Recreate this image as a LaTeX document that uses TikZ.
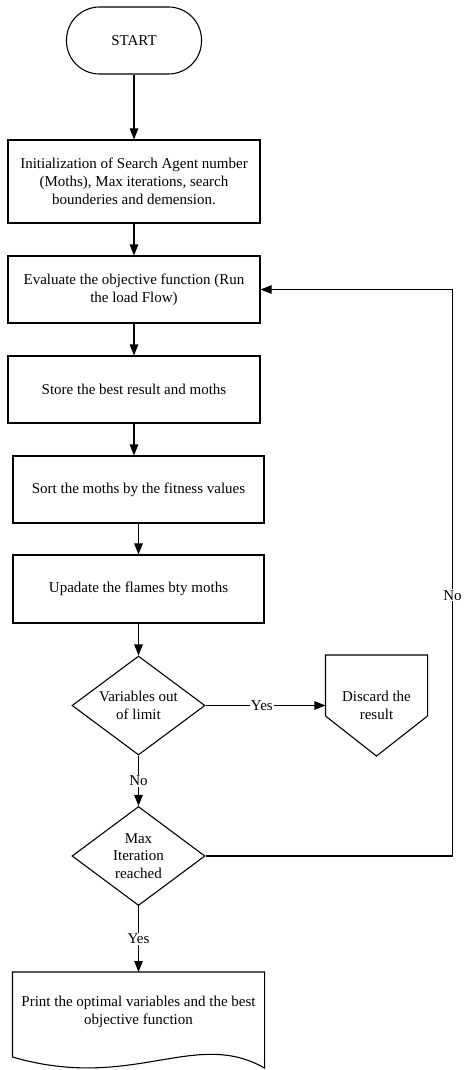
\documentclass[tikz,border=0pt]{standalone}
\usepackage{fontspec}
\setmainfont{Liberation Serif}
\usetikzlibrary{shapes.geometric,arrows.meta}

\begin{document}
\begin{tikzpicture}[x=1pt, y=-1pt, line width=1.1pt,
  font=\fontsize{15pt}{17.7pt}\selectfont,
  box/.style={draw, minimum width=252pt, minimum height=67pt, align=center, inner sep=2pt},
  decision/.style={draw, diamond, minimum width=133pt, minimum height=99pt, aspect=1.34, inner sep=0pt, align=center},
  flow/.style={-{Triangle[length=11pt,width=8.5pt]}},
  lbl/.style={fill=white, inner sep=1pt}]
  \useasboundingbox (0,0) rectangle (466,1070);
  % Boxes
  \node[draw, rounded corners=33pt, minimum width=135pt, minimum height=67pt] (start) at (134,40.5) {START};
  \node[box, minimum height=83pt] (init) at (134,181.5) {Initialization of Search Agent number\\(Moths), Max iterations, search\\bounderies and demension.};
  \node[box] (eval) at (134,289.5) {Evaluate the objective function (Run\\the load Flow)};
  \node[box] (store) at (134,389.5) {Store the best result and moths};
  \node[box, minimum width=251pt] (sort) at (138.5,489.5) {Sort the moths by the fitness values};
  \node[box, minimum width=251pt, minimum height=68pt] (update) at (138.5,589) {Upadate the flames bty moths};
  % Decisions
  \node[decision] (limit) at (138.5,705.5) {Variables out\\of limit};
  \node[minimum width=101pt, minimum height=100pt, align=center] (discard) at (376.5,705.5) {Discard the\\result};
  \draw (discard.north west) -- (discard.north east) -- ([yshift=-61pt]discard.north east) -- (discard.south) -- ([yshift=-61pt]discard.north west) -- cycle;
  \node[decision] (maxit) at (138.5,856) {Max\\Iteration\\reached};
  % Output
  \node[minimum width=251pt, minimum height=78pt, align=center, anchor=north] (print) at (138.5,972) {Print the optimal variables and the best\\objective function};
  \draw (print.north west) -- (print.north east) -- ([yshift=-96pt]print.north east) .. controls +(-70,-40) and +(120,35) .. ([yshift=-85pt]print.north west) -- cycle;
  % Arrows
  \draw[flow] (start) -- (init);
  \draw[flow] (init) -- (eval);
  \draw[flow] (eval) -- (store);
  \draw[flow] (store.south) -- (store.south |- sort.north);
  \draw[flow] (sort) -- (update);
  \draw[flow] (update) -- (limit);
  \draw[flow] (limit) -- node[lbl, pos=0.47] {Yes} (discard);
  \draw[flow] (limit) -- node[lbl] {No} (maxit);
  \draw[flow] (maxit) -- node[lbl] {Yes} (print);
  \draw[flow] (maxit.east) -- ++(247,0) |- node[lbl, pos=0.23] {No} (eval.east);
\end{tikzpicture}
\end{document}
